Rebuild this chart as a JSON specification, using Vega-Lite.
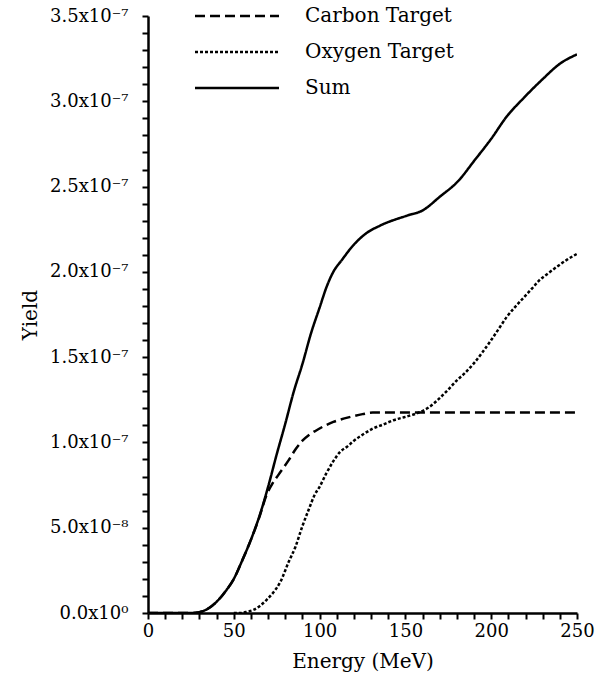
{
  "$schema": "https://vega.github.io/schema/vega-lite/v6.json",
  "autosize": {"type": "none"},
  "padding": {"left": 148, "top": 16, "right": 27, "bottom": 75},
  "width": 429,
  "height": 597,
  "background": "white",
  "config": {
    "font": "DejaVu Serif",
    "view": {"stroke": null},
    "axis": {
      "grid": false,
      "domainColor": "black",
      "domainWidth": 2.5,
      "tickColor": "black",
      "tickWidth": 2,
      "tickSize": 6,
      "labelColor": "black",
      "labelFont": "DejaVu Serif",
      "labelFontSize": 18,
      "titleFont": "DejaVu Serif",
      "titleFontSize": 20,
      "titleFontWeight": "normal",
      "titleColor": "black",
      "labelOverlap": false,
      "labelFlush": false
    }
  },
  "data": {
    "values": [
      {"series": "Sum", "energy": 0, "yield": 0},
      {"series": "Sum", "energy": 25, "yield": 0},
      {"series": "Sum", "energy": 30, "yield": 0.05e-8},
      {"series": "Sum", "energy": 34, "yield": 0.2e-8},
      {"series": "Sum", "energy": 40, "yield": 0.66e-8},
      {"series": "Sum", "energy": 45, "yield": 1.25e-8},
      {"series": "Sum", "energy": 50, "yield": 2.0e-8},
      {"series": "Sum", "energy": 55, "yield": 3.1e-8},
      {"series": "Sum", "energy": 60, "yield": 4.3e-8},
      {"series": "Sum", "energy": 65, "yield": 5.7e-8},
      {"series": "Sum", "energy": 70, "yield": 7.4e-8},
      {"series": "Sum", "energy": 75, "yield": 9.3e-8},
      {"series": "Sum", "energy": 80, "yield": 11.1e-8},
      {"series": "Sum", "energy": 85, "yield": 13.0e-8},
      {"series": "Sum", "energy": 90, "yield": 14.6e-8},
      {"series": "Sum", "energy": 95, "yield": 16.4e-8},
      {"series": "Sum", "energy": 100, "yield": 17.9e-8},
      {"series": "Sum", "energy": 104, "yield": 19.1e-8},
      {"series": "Sum", "energy": 108, "yield": 20.0e-8},
      {"series": "Sum", "energy": 113, "yield": 20.7e-8},
      {"series": "Sum", "energy": 120, "yield": 21.6e-8},
      {"series": "Sum", "energy": 127, "yield": 22.25e-8},
      {"series": "Sum", "energy": 135, "yield": 22.7e-8},
      {"series": "Sum", "energy": 151, "yield": 23.3e-8},
      {"series": "Sum", "energy": 160, "yield": 23.6e-8},
      {"series": "Sum", "energy": 170, "yield": 24.4e-8},
      {"series": "Sum", "energy": 181, "yield": 25.35e-8},
      {"series": "Sum", "energy": 190, "yield": 26.5e-8},
      {"series": "Sum", "energy": 200, "yield": 27.8e-8},
      {"series": "Sum", "energy": 209, "yield": 29.1e-8},
      {"series": "Sum", "energy": 219, "yield": 30.2e-8},
      {"series": "Sum", "energy": 230, "yield": 31.3e-8},
      {"series": "Sum", "energy": 240, "yield": 32.2e-8},
      {"series": "Sum", "energy": 250, "yield": 32.75e-8},

      {"series": "Carbon Target", "energy": 0, "yield": 0},
      {"series": "Carbon Target", "energy": 25, "yield": 0},
      {"series": "Carbon Target", "energy": 30, "yield": 0.05e-8},
      {"series": "Carbon Target", "energy": 34, "yield": 0.2e-8},
      {"series": "Carbon Target", "energy": 40, "yield": 0.66e-8},
      {"series": "Carbon Target", "energy": 45, "yield": 1.25e-8},
      {"series": "Carbon Target", "energy": 50, "yield": 2.0e-8},
      {"series": "Carbon Target", "energy": 55, "yield": 3.1e-8},
      {"series": "Carbon Target", "energy": 60, "yield": 4.3e-8},
      {"series": "Carbon Target", "energy": 65, "yield": 5.65e-8},
      {"series": "Carbon Target", "energy": 69, "yield": 6.9e-8},
      {"series": "Carbon Target", "energy": 72, "yield": 7.5e-8},
      {"series": "Carbon Target", "energy": 76, "yield": 8.1e-8},
      {"series": "Carbon Target", "energy": 82, "yield": 8.96e-8},
      {"series": "Carbon Target", "energy": 86, "yield": 9.6e-8},
      {"series": "Carbon Target", "energy": 90, "yield": 10.1e-8},
      {"series": "Carbon Target", "energy": 94, "yield": 10.45e-8},
      {"series": "Carbon Target", "energy": 98, "yield": 10.7e-8},
      {"series": "Carbon Target", "energy": 103, "yield": 10.98e-8},
      {"series": "Carbon Target", "energy": 108, "yield": 11.2e-8},
      {"series": "Carbon Target", "energy": 118, "yield": 11.5e-8},
      {"series": "Carbon Target", "energy": 125, "yield": 11.66e-8},
      {"series": "Carbon Target", "energy": 131, "yield": 11.75e-8},
      {"series": "Carbon Target", "energy": 150, "yield": 11.75e-8},
      {"series": "Carbon Target", "energy": 200, "yield": 11.75e-8},
      {"series": "Carbon Target", "energy": 250, "yield": 11.75e-8},

      {"series": "Oxygen Target", "energy": 50, "yield": 0},
      {"series": "Oxygen Target", "energy": 54, "yield": 0},
      {"series": "Oxygen Target", "energy": 58, "yield": 0.08e-8},
      {"series": "Oxygen Target", "energy": 61.4, "yield": 0.18e-8},
      {"series": "Oxygen Target", "energy": 65, "yield": 0.4e-8},
      {"series": "Oxygen Target", "energy": 69, "yield": 0.76e-8},
      {"series": "Oxygen Target", "energy": 73, "yield": 1.2e-8},
      {"series": "Oxygen Target", "energy": 77, "yield": 1.8e-8},
      {"series": "Oxygen Target", "energy": 82, "yield": 3.0e-8},
      {"series": "Oxygen Target", "energy": 86, "yield": 3.9e-8},
      {"series": "Oxygen Target", "energy": 90, "yield": 5.1e-8},
      {"series": "Oxygen Target", "energy": 94, "yield": 6.15e-8},
      {"series": "Oxygen Target", "energy": 97, "yield": 6.9e-8},
      {"series": "Oxygen Target", "energy": 100, "yield": 7.4e-8},
      {"series": "Oxygen Target", "energy": 104, "yield": 8.2e-8},
      {"series": "Oxygen Target", "energy": 108, "yield": 8.9e-8},
      {"series": "Oxygen Target", "energy": 112, "yield": 9.45e-8},
      {"series": "Oxygen Target", "energy": 116, "yield": 9.75e-8},
      {"series": "Oxygen Target", "energy": 120, "yield": 10.1e-8},
      {"series": "Oxygen Target", "energy": 125, "yield": 10.45e-8},
      {"series": "Oxygen Target", "energy": 131, "yield": 10.81e-8},
      {"series": "Oxygen Target", "energy": 137, "yield": 11.05e-8},
      {"series": "Oxygen Target", "energy": 143, "yield": 11.3e-8},
      {"series": "Oxygen Target", "energy": 150, "yield": 11.5e-8},
      {"series": "Oxygen Target", "energy": 157, "yield": 11.72e-8},
      {"series": "Oxygen Target", "energy": 164, "yield": 12.08e-8},
      {"series": "Oxygen Target", "energy": 170, "yield": 12.6e-8},
      {"series": "Oxygen Target", "energy": 175, "yield": 13.1e-8},
      {"series": "Oxygen Target", "energy": 180, "yield": 13.64e-8},
      {"series": "Oxygen Target", "energy": 185, "yield": 14.1e-8},
      {"series": "Oxygen Target", "energy": 190, "yield": 14.65e-8},
      {"series": "Oxygen Target", "energy": 195, "yield": 15.3e-8},
      {"series": "Oxygen Target", "energy": 200, "yield": 16.0e-8},
      {"series": "Oxygen Target", "energy": 205, "yield": 16.75e-8},
      {"series": "Oxygen Target", "energy": 209, "yield": 17.35e-8},
      {"series": "Oxygen Target", "energy": 214, "yield": 17.95e-8},
      {"series": "Oxygen Target", "energy": 219, "yield": 18.5e-8},
      {"series": "Oxygen Target", "energy": 224, "yield": 19.05e-8},
      {"series": "Oxygen Target", "energy": 228, "yield": 19.5e-8},
      {"series": "Oxygen Target", "energy": 233, "yield": 19.9e-8},
      {"series": "Oxygen Target", "energy": 238, "yield": 20.28e-8},
      {"series": "Oxygen Target", "energy": 244, "yield": 20.7e-8},
      {"series": "Oxygen Target", "energy": 250, "yield": 21.06e-8}
    ]
  },
  "mark": {"type": "line", "color": "black", "clip": true, "interpolate": "monotone"},
  "encoding": {
    "x": {
      "field": "energy",
      "type": "quantitative",
      "scale": {"domain": [0, 250], "nice": false, "zero": false},
      "axis": {
        "title": "Energy (MeV)",
        "values": [0, 10, 20, 30, 40, 50, 60, 70, 80, 90, 100, 110, 120, 130, 140, 150, 160, 170, 180, 190, 200, 210, 220, 230, 240, 250],
        "labelExpr": "datum.value % 50 == 0 ? datum.label : ''",
        "labelPadding": 3,
        "titlePadding": 11
      }
    },
    "y": {
      "field": "yield",
      "type": "quantitative",
      "scale": {"domain": [0, 3.5e-7], "nice": false, "zero": true},
      "axis": {
        "title": "Yield",
        "values": [0, 1e-8, 2e-8, 3e-8, 4e-8, 5e-8, 6e-8, 7e-8, 8e-8, 9e-8, 1e-7, 1.1e-7, 1.2e-7, 1.3e-7, 1.4e-7, 1.5e-7, 1.6e-7, 1.7e-7, 1.8e-7, 1.9e-7, 2e-7, 2.1e-7, 2.2e-7, 2.3e-7, 2.4e-7, 2.5e-7, 2.6e-7, 2.7e-7, 2.8e-7, 2.9e-7, 3e-7, 3.1e-7, 3.2e-7, 3.3e-7, 3.4e-7, 3.5e-7],
        "labelExpr": "round(datum.value * 1e8) % 5 != 0 ? '' : (datum.value == 0 ? '0.0x10⁰' : (datum.value < 9e-8 ? format(datum.value * 1e8, '.1f') + 'x10⁻⁸' : format(datum.value * 1e7, '.1f') + 'x10⁻⁷'))",
        "labelPadding": 14,
        "titlePadding": 9
      }
    },
    "strokeDash": {
      "field": "series",
      "type": "nominal",
      "scale": {"domain": ["Carbon Target", "Oxygen Target", "Sum"], "range": [[10, 5], [3, 2], [1, 0]]},
      "legend": {
        "title": null,
        "orient": "none",
        "legendX": 79,
        "legendY": -10,
        "padding": 0,
        "symbolType": "M-7,0H7",
        "symbolSize": 144,
        "symbolStrokeColor": "black",
        "symbolStrokeWidth": 2.5,
        "symbolFillColor": "transparent",
        "labelFont": "DejaVu Serif",
        "labelFontSize": 20,
        "labelColor": "black",
        "labelOffset": 58,
        "rowPadding": 16,
        "labelLimit": 300
      }
    },
    "strokeWidth": {
      "field": "series",
      "type": "nominal",
      "scale": {"domain": ["Carbon Target", "Oxygen Target", "Sum"], "range": [2.5, 2.5, 3]},
      "legend": null
    }
  }
}
